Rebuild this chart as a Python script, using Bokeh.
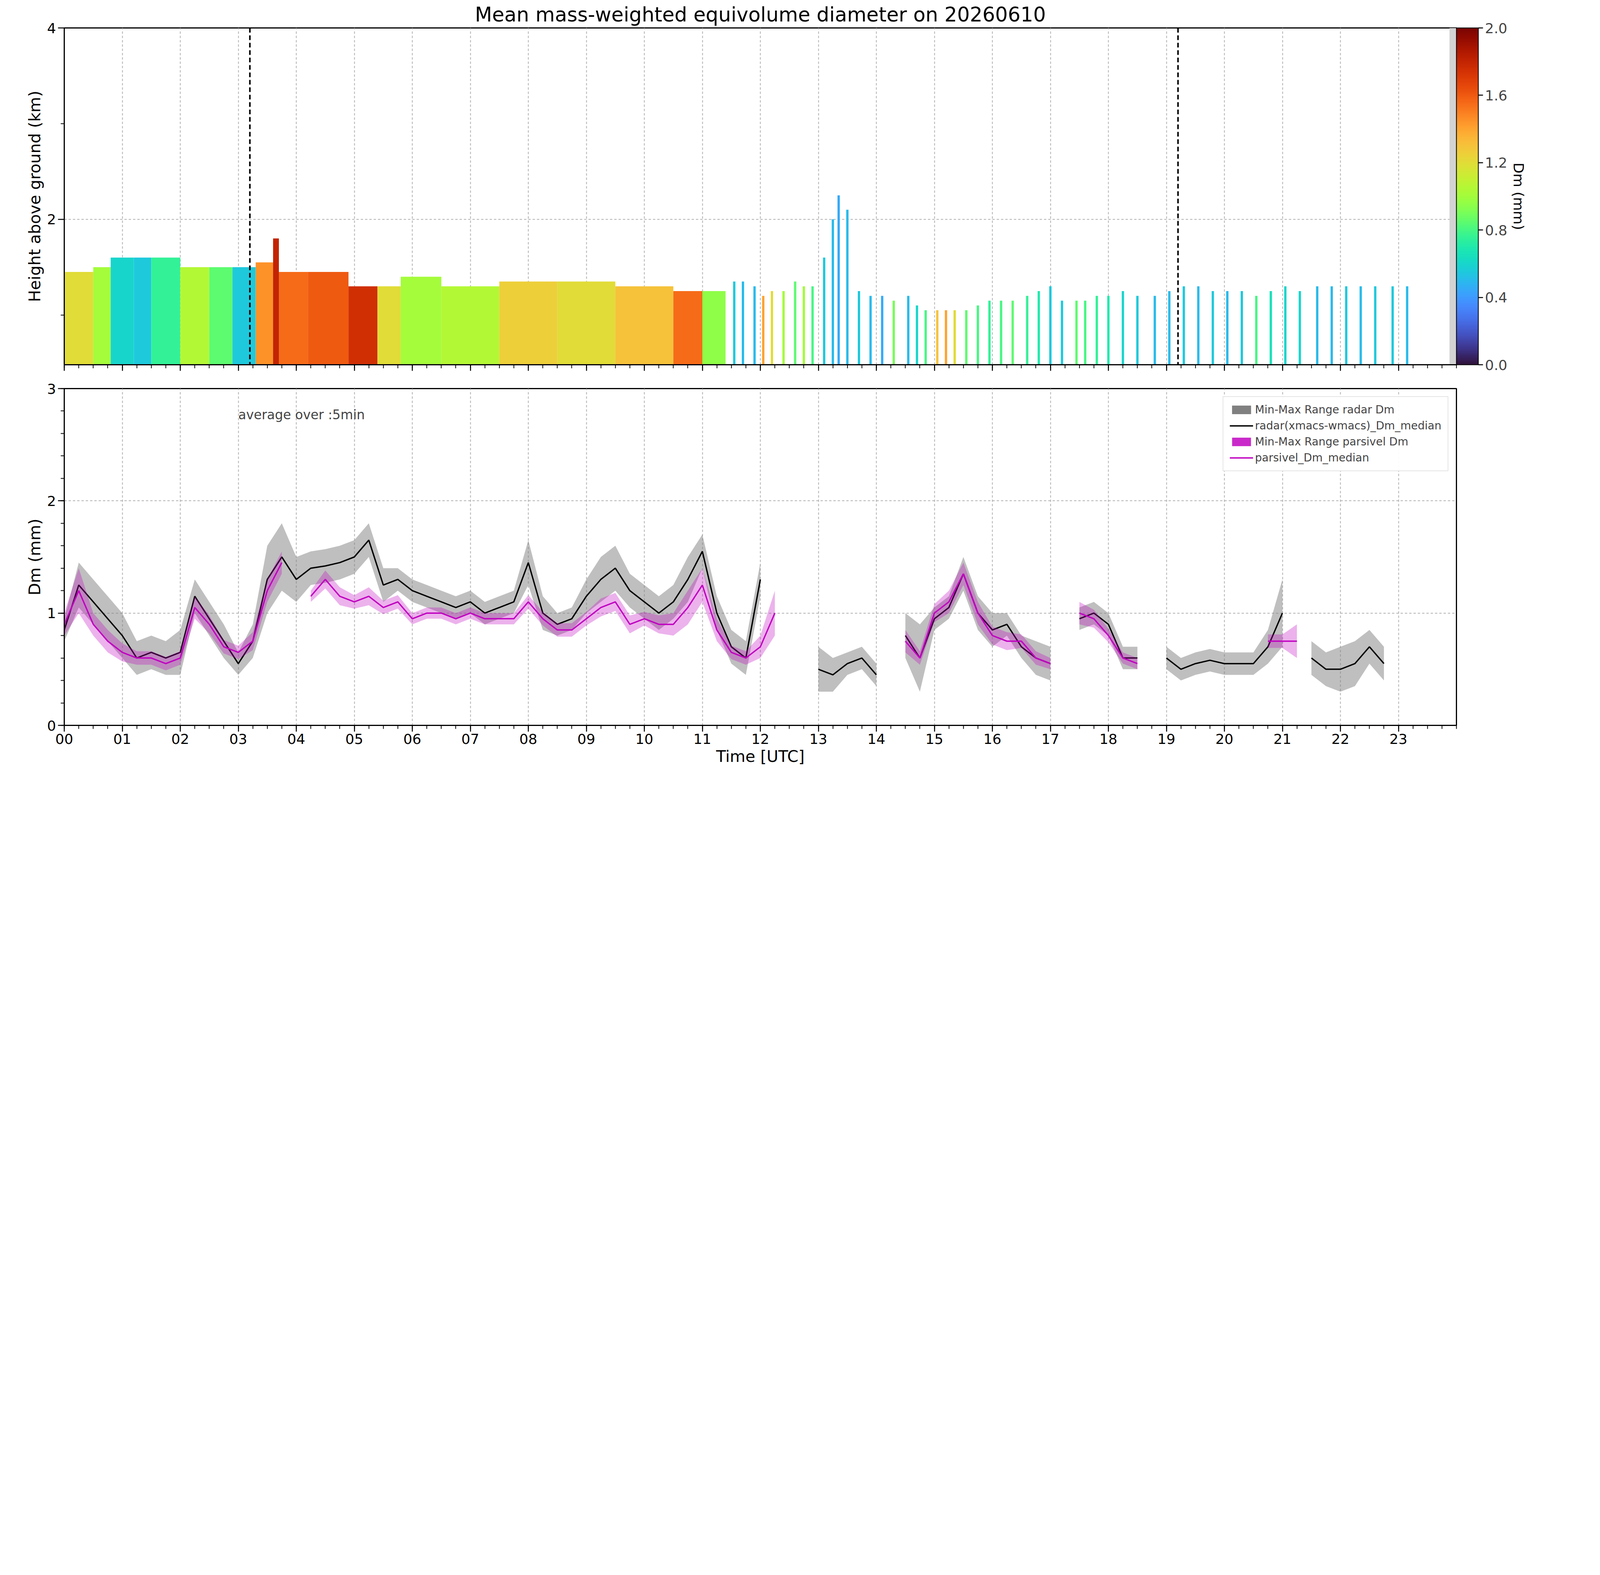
import numpy as np
from bokeh.plotting import figure
from bokeh.layouts import column
from bokeh.models import (LinearColorMapper, ColorBar, FixedTicker, Title, Span, Label,
                          Range1d, CustomJSTickFormatter, Legend, LegendItem, ColumnDataSource)
from bokeh.palettes import Turbo256
from bokeh.embed import file_html
from bokeh.resources import INLINE

nan = float("nan")
# ---- top panel data ----
seg_start = [0.0, 0.5, 0.8, 1.2, 1.5, 2.0, 2.5, 2.9, 3.3, 3.6, 3.7, 4.2, 4.9, 5.4, 5.8, 6.5, 7.5, 8.5, 9.5, 10.5, 11.0]
seg_end   = [0.5, 0.8, 1.2, 1.5, 2.0, 2.5, 2.9, 3.3, 3.6, 3.7, 4.2, 4.9, 5.4, 5.8, 6.5, 7.5, 8.5, 9.5, 10.5, 11.0, 11.4]
seg_top   = [1.45, 1.5, 1.6, 1.6, 1.6, 1.5, 1.5, 1.5, 1.55, 1.8, 1.45, 1.45, 1.3, 1.3, 1.4, 1.3, 1.35, 1.35, 1.3, 1.25, 1.25]
seg_dm    = [1.2, 1.0, 0.6, 0.55, 0.75, 1.05, 0.85, 0.55, 1.45, 1.8, 1.55, 1.6, 1.75, 1.2, 1.0, 1.05, 1.25, 1.2, 1.3, 1.55, 0.95]
bar_t = [11.55, 11.7, 11.9, 12.05, 12.2, 12.4, 12.6, 12.75, 12.9, 13.1, 13.25, 13.35, 13.5, 13.7, 13.9, 14.1, 14.3,
         14.55, 14.7, 14.85, 15.05, 15.2, 15.35, 15.55, 15.75, 15.95, 16.15, 16.35, 16.6, 16.8, 17.0, 17.2, 17.45,
         17.6, 17.8, 18.0, 18.25, 18.5, 18.8, 19.05, 19.3, 19.55, 19.8, 20.05, 20.3, 20.55, 20.8, 21.05, 21.3, 21.6,
         21.85, 22.1, 22.35, 22.6, 22.9, 23.15]
bar_top = [1.35, 1.35, 1.3, 1.2, 1.25, 1.25, 1.35, 1.3, 1.3, 1.6, 2.0, 2.25, 2.1, 1.25, 1.2, 1.2, 1.15,
           1.2, 1.1, 1.05, 1.05, 1.05, 1.05, 1.05, 1.1, 1.15, 1.15, 1.15, 1.2, 1.25, 1.3, 1.15, 1.15,
           1.15, 1.2, 1.2, 1.25, 1.2, 1.2, 1.25, 1.3, 1.3, 1.25, 1.25, 1.25, 1.2, 1.25, 1.3, 1.25, 1.3,
           1.3, 1.3, 1.3, 1.3, 1.3, 1.3]
bar_dm = [0.55, 0.5, 0.5, 1.4, 1.2, 1.0, 0.85, 1.0, 0.8, 0.55, 0.5, 0.45, 0.5, 0.55, 0.5, 0.45, 0.9,
          0.5, 0.6, 0.8, 1.3, 1.4, 1.2, 0.85, 0.8, 0.75, 0.8, 0.85, 0.75, 0.7, 0.55, 0.55, 0.85,
          0.8, 0.75, 0.7, 0.6, 0.55, 0.5, 0.5, 0.55, 0.5, 0.55, 0.5, 0.55, 0.8, 0.65, 0.6, 0.6, 0.5,
          0.5, 0.55, 0.5, 0.55, 0.55, 0.5]

# ---- bottom panel data (15-min) ----
radar_med = [0.85,1.25,1.1,0.95,0.8,0.6,0.65,0.6, 0.65,1.15,0.95,0.75,0.55,0.75,1.3,1.5,
             1.3,1.4,1.42,1.45,1.5,1.65,1.25,1.3, 1.2,1.15,1.1,1.05,1.1,1.0,1.05,1.1,
             1.45,1.0,0.9,0.95,1.15,1.3,1.4,1.2, 1.1,1.0,1.1,1.3,1.55,1.0,0.7,0.6,
             1.3,nan,0.8,nan,0.5,0.45,0.55,0.6, 0.45,nan,0.8,0.6,0.95,1.05,1.35,1.0,
             0.85,0.9,0.7,0.6,0.55,nan,0.95,1.0, 0.9,0.6,0.6,nan,0.6,0.5,0.55,0.58,
             0.55,0.55,0.55,0.7,1.0,nan,0.6,0.5, 0.5,0.55,0.7,0.55,nan,nan,nan,nan]
radar_spread = [0.1,0.2,0.2,0.2,0.2,0.15,0.15,0.15, 0.2,0.15,0.15,0.15,0.1,0.15,0.3,0.3,
                0.2,0.15,0.15,0.15,0.15,0.15,0.15,0.1, 0.1,0.1,0.1,0.1,0.1,0.1,0.1,0.1,
                0.2,0.15,0.1,0.1,0.15,0.2,0.2,0.15, 0.15,0.15,0.15,0.2,0.15,0.15,0.15,0.15,
                0.15,nan,0.1,nan,0.2,0.15,0.1,0.1, 0.1,nan,0.2,0.3,0.1,0.1,0.15,0.15,
                0.15,0.1,0.1,0.15,0.15,nan,0.1,0.1, 0.1,0.1,0.1,nan,0.1,0.1,0.1,0.1,
                0.1,0.1,0.1,0.15,0.3,nan,0.15,0.15, 0.2,0.2,0.15,0.15,nan,nan,nan,nan]
pars_med = [0.9,1.2,0.9,0.75,0.65,0.6,0.6,0.55, 0.6,1.05,0.9,0.7,0.65,0.75,1.2,1.45,
            nan,1.15,1.3,1.15,1.1,1.15,1.05,1.1, 0.95,1.0,1.0,0.95,1.0,0.95,0.95,0.95,
            1.1,0.95,0.85,0.85,0.95,1.05,1.1,0.9, 0.95,0.9,0.9,1.05,1.25,0.85,0.65,0.6,
            0.7,1.0,nan,nan,nan,nan,nan,nan, nan,nan,0.75,0.6,1.0,1.1,1.35,1.0,
            0.8,0.75,0.75,0.6,0.55,nan,1.0,0.95, 0.8,0.6,0.55,nan,nan,nan,nan,nan,
            nan,nan,nan,0.75,0.75,0.75,nan,nan, nan,nan,nan,nan,nan,nan,nan,nan]
pars_spread = [0.1,0.2,0.1,0.1,0.08,0.06,0.06,0.06, 0.06,0.1,0.08,0.06,0.06,0.08,0.1,0.1,
               nan,0.05,0.08,0.08,0.06,0.08,0.06,0.06, 0.05,0.05,0.05,0.05,0.05,0.05,0.05,0.05,
               0.06,0.06,0.06,0.06,0.06,0.08,0.08,0.08, 0.06,0.08,0.1,0.15,0.15,0.1,0.06,0.06,
               0.1,0.2,nan,nan,nan,nan,nan,nan, nan,nan,0.1,0.06,0.08,0.1,0.1,0.1,
               0.08,0.08,0.06,0.06,0.05,nan,0.1,0.08, 0.06,0.05,0.05,nan,nan,nan,nan,nan,
               nan,nan,nan,0.06,0.06,0.15,nan,nan, nan,nan,nan,nan,nan,nan,nan,nan]
time_h = [i * 0.25 for i in range(96)]
hour_labels = ["%02d" % h for h in range(24)]

FONT = "DejaVu Sans"
TICK = "36px"
LAB = "41px"
FW, FH = 3564, 862
W = 3990

def style(p):
    p.xaxis.ticker = FixedTicker(ticks=list(range(24)), minor_ticks=[i * 0.25 for i in range(97)])
    p.xgrid.ticker = FixedTicker(ticks=list(range(24)))
    for ax in p.axis:
        ax.major_label_text_font = FONT
        ax.major_label_text_font_size = TICK
        ax.major_label_text_color = "black"
        ax.axis_label_text_font = FONT
        ax.axis_label_text_font_size = LAB
        ax.axis_label_text_color = "black"
        ax.axis_label_text_font_style = "normal"
        ax.major_tick_line_width = 2.5
        ax.minor_tick_line_width = 2
        ax.major_tick_out = 16
        ax.minor_tick_out = 9
        ax.major_tick_in = 0
        ax.minor_tick_in = 0
        ax.axis_line_width = 3
    p.grid.grid_line_dash = "6 5"
    p.grid.grid_line_color = "#b0b0b0"
    p.grid.grid_line_width = 2
    p.outline_line_color = "black"
    p.outline_line_width = 3

def runs(arr):
    out, start = [], None
    for i, v in enumerate(arr):
        if not np.isnan(v) and start is None:
            start = i
        if np.isnan(v) and start is not None:
            out.append((start, i)); start = None
    if start is not None:
        out.append((start, len(arr)))
    return out

# ---- top figure ----
mapper = LinearColorMapper(palette=Turbo256, low=0, high=2)
p1 = figure(width=W, height=1075, frame_width=FW, frame_height=FH,
            x_range=Range1d(0, 24), y_range=Range1d(0.48, 4),
            output_backend="svg", toolbar_location=None, min_border_left=164,
            min_border_top=20)
p1.title.text = "Mean mass-weighted equivolume diameter on 20260610"
p1.title.text_font = FONT
p1.title.text_font_size = "51px"
p1.title.text_font_style = "normal"
p1.title.text_color = "black"
p1.title.align = "center"
s1 = ColumnDataSource(dict(l=seg_start, r=seg_end, t=seg_top, dm=seg_dm))
p1.quad(left="l", right="r", bottom=0.48, top="t", source=s1,
        fill_color={"field": "dm", "transform": mapper}, line_color=None)
s2 = ColumnDataSource(dict(x=bar_t, t=bar_top, dm=bar_dm))
p1.vbar(x="x", width=0.04, bottom=0.48, top="t", source=s2,
        fill_color={"field": "dm", "transform": mapper}, line_color=None)
p1.quad(left=23.88, right=24, bottom=0.48, top=4, fill_color="#d3d3d3", line_color=None)
for xv in [3.2, 19.2]:
    p1.add_layout(Span(location=xv, dimension="height", line_color="black",
                       line_width=4, line_dash="12 7"))
p1.yaxis.axis_label = "Height above ground (km)"
p1.yaxis.ticker = FixedTicker(ticks=[2, 4], minor_ticks=[1, 3])
p1.ygrid.ticker = FixedTicker(ticks=[2])
cb = ColorBar(color_mapper=mapper, ticker=FixedTicker(ticks=[0, 0.4, 0.8, 1.2, 1.6, 2.0]),
              width=56, padding=0, margin=42, major_label_text_font=FONT,
              major_label_text_font_size=TICK, major_tick_line_color="black",
              major_tick_line_width=2.5, major_tick_out=12, major_tick_in=0,
              bar_line_color="black", bar_line_width=2,
              formatter=CustomJSTickFormatter(code="return tick.toFixed(1)"))
p1.add_layout(cb, "right")
p1.add_layout(Title(text="Dm (mm)", align="center", text_font=FONT, text_color="black",
                    text_font_size="36px", text_font_style="normal"), "right")
style(p1)
p1.xaxis.formatter = CustomJSTickFormatter(code="return ''")

# ---- bottom figure ----
tt = np.array(time_h)
rm = np.array(radar_med); rs = np.array(radar_spread)
pm = np.array(pars_med); ps = np.array(pars_spread)
p2 = figure(width=W, height=1076, frame_width=FW, frame_height=FH,
            x_range=Range1d(0, 24), y_range=Range1d(0, 3),
            output_backend="svg", toolbar_location=None, min_border_left=164,
            min_border_top=45)
r_areas = [p2.varea(x=tt[a:b], y1=(rm - rs)[a:b], y2=(rm + rs)[a:b], fill_color="gray", fill_alpha=0.5)
           for a, b in runs(rm)]
r_l = p2.line(tt, rm, line_color="black", line_width=3.5)
p_areas = [p2.varea(x=tt[a:b], y1=(pm - ps)[a:b], y2=(pm + ps)[a:b], fill_color="#c000c0", fill_alpha=0.3)
           for a, b in runs(pm)]
p_l = p2.line(tt, pm, line_color="#c000c0", line_width=3.5)
leg = Legend(items=[LegendItem(label="Min-Max Range radar Dm", renderers=r_areas),
                    LegendItem(label="radar(xmacs-wmacs)_Dm_median", renderers=[r_l]),
                    LegendItem(label="Min-Max Range parsivel Dm", renderers=p_areas),
                    LegendItem(label="parsivel_Dm_median", renderers=[p_l])],
             location="top_right", label_text_font=FONT, label_text_font_size="28px",
             glyph_width=60, glyph_height=27, spacing=8, padding=16, margin=20,
             border_line_color="#cccccc", border_line_width=2)
p2.add_layout(leg)
p2.add_layout(Label(x=3.0, y=2.7, text="average over :5min", text_font=FONT,
                    text_font_size="33px"))
p2.yaxis.axis_label = "Dm (mm)"
p2.xaxis.axis_label = "Time [UTC]"
p2.yaxis.ticker = FixedTicker(ticks=[0, 1, 2, 3], minor_ticks=[i * 0.2 for i in range(16)])
style(p2)
p2.xaxis.major_label_overrides = {h: lab for h, lab in enumerate(hour_labels)}

p = column(p1, p2, spacing=0)
open("out.html", "w").write(file_html(p, INLINE))
